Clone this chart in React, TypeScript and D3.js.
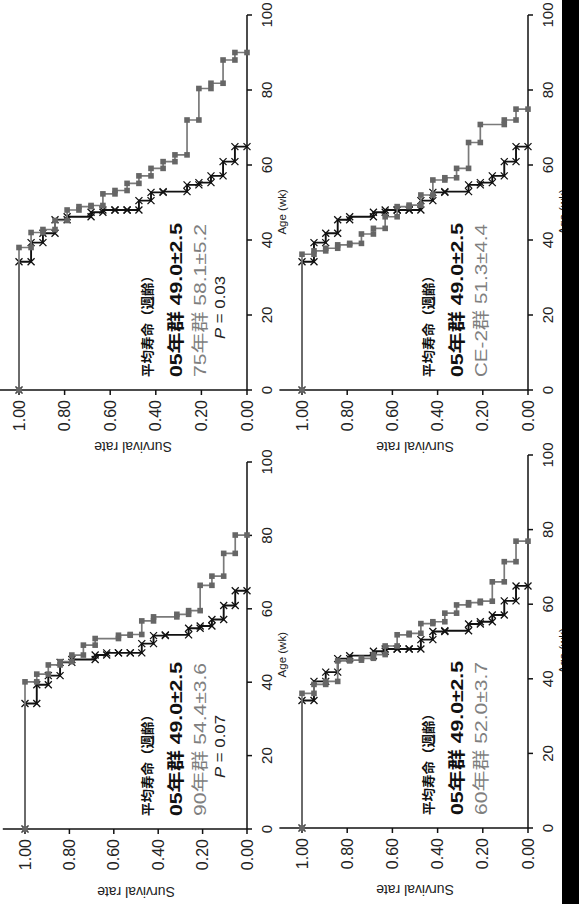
import React from 'react';
import * as d3 from 'd3';

// ---- data ----
const ageTicks = [0, 20, 40, 60, 80, 100];
const survTicks = [0, 0.2, 0.4, 0.6, 0.8, 1.0];

// 05年群 (control, black X markers) — same in every panel
const ctrlAges = [34.2, 39.3, 41.8, 45.4, 46.2, 47.4, 48.0, 48.0, 48.0, 50.5, 52.7, 52.9, 54.7, 55.3, 57.1, 60.9, 64.9];
const ctrlSurv = [0.947, 0.895, 0.842, 0.789, 0.684, 0.632, 0.579, 0.526, 0.474, 0.421, 0.368, 0.263, 0.211, 0.158, 0.105, 0.053, 0];

// 75年群
const g75Ages = [38.0, 42.0, 42.8, 45.2, 48.0, 48.9, 49.2, 52.3, 53.2, 55.1, 57.1, 59.1, 60.9, 62.7, 72.0, 80.4, 81.8, 88.0, 90.0];
const g75Surv = [0.947, 0.895, 0.842, 0.789, 0.737, 0.684, 0.632, 0.579, 0.526, 0.474, 0.421, 0.368, 0.316, 0.263, 0.211, 0.158, 0.105, 0.053, 0];

// CE-2群
const ce2Ages = [36.2, 37.1, 37.8, 38.7, 39.1, 41.6, 43.1, 46.2, 48.9, 49.3, 52.0, 56.0, 56.6, 59.1, 66.0, 70.8, 72.0, 74.9];
const ce2Surv = [0.947, 0.895, 0.842, 0.789, 0.737, 0.684, 0.632, 0.579, 0.526, 0.474, 0.421, 0.368, 0.316, 0.263, 0.211, 0.105, 0.053, 0];

// 90年群
const g90Ages = [40.1, 42.2, 44.7, 45.6, 47.4, 50.1, 51.9, 52.8, 53.0, 56.7, 57.8, 58.5, 59.5, 66.4, 68.9, 75.1, 80.1];
const g90Surv = [0.947, 0.895, 0.842, 0.789, 0.737, 0.684, 0.579, 0.526, 0.474, 0.421, 0.316, 0.263, 0.211, 0.158, 0.105, 0.053, 0];

// 60年群
const g60Ages = [36.1, 38.5, 39.3, 44.8, 45.0, 45.5, 46.5, 48.8, 51.8, 52.2, 54.8, 55.3, 57.6, 59.8, 60.4, 60.8, 66.0, 71.4, 76.9];
const g60Surv = [0.947, 0.895, 0.842, 0.789, 0.737, 0.684, 0.632, 0.579, 0.526, 0.474, 0.421, 0.368, 0.316, 0.263, 0.211, 0.158, 0.105, 0.053, 0];

const headerText = '平均寿命（週齢）';
const ctrlLabel = '05年群 49.0±2.5';
const groupLabels = ['75年群 58.1±5.2', 'CE-2群 51.3±4.4', '90年群 54.4±3.6', '60年群 52.0±3.7'];
const pValues = ['0.03', null, '0.07', null];
const groupAges = [g75Ages, ce2Ages, g90Ages, g60Ages];
const groupSurv = [g75Surv, ce2Surv, g90Surv, g60Surv];

// ---- layout (page coordinates of each rotated panel) ----
const frames = [
  { s1x: 19, s0x: 247, age0y: 390, age100y: 15, titleOff: 57 },
  { s1x: 302, s0x: 528, age0y: 390, age100y: 15, titleOff: 57 },
  { s1x: 25, s0x: 247, age0y: 829, age100y: 462, titleOff: 63 },
  { s1x: 302, s0x: 528, age0y: 828, age100y: 455, titleOff: 62 },
];

const FONT = '"Liberation Sans", Arial, "Noto Sans CJK JP", sans-serif';
const GREY_LINE = '#7a7a7a';
const GREY_MARK = '#666666';
const GREY_TEXT = '#7f7f7f';

function stepPoints(ages: number[], surv: number[]): [number, number][] {
  const pts: [number, number][] = [[0, 1]];
  let prev = 1;
  ages.forEach((a, i) => {
    pts.push([a, prev]);
    pts.push([a, surv[i]]);
    prev = surv[i];
  });
  return pts;
}

function Panel({ idx }: { idx: number }) {
  const f = frames[idx];
  const W = f.age0y - f.age100y;
  const H = f.s0x - f.s1x;
  const x = d3.scaleLinear().domain([0, 100]).range([0, W]);
  const y = d3.scaleLinear().domain([0, 1]).range([H, 0]);
  const line = d3.line<[number, number]>().x(d => x(d[0])).y(d => y(d[1]));
  const ctrlPts = stepPoints(ctrlAges, ctrlSurv);
  const grpPts = stepPoints(groupAges[idx], groupSurv[idx]);
  const m = 3.5;
  const sq = 5.6;
  return (
    <g transform={`translate(${f.s1x},${f.age0y}) rotate(-90)`} fontFamily={FONT}>
      {/* survival axis (standard y) */}
      <line x1={0} x2={0} y1={y(1.1)} y2={H} stroke="#111" strokeWidth={1.5} />
      {survTicks.map(t => (
        <g key={'s' + t}>
          <line x1={-5} x2={0} y1={y(t)} y2={y(t)} stroke="#111" strokeWidth={1.5} />
          <text x={-10} y={y(t)} textAnchor="end" dominantBaseline="central" fontSize={16} fill="#222">
            {d3.format('.2f')(t)}
          </text>
        </g>
      ))}
      <text
        transform={`translate(${-f.titleOff},${y(0.5)}) rotate(-90)`}
        textAnchor="middle"
        dominantBaseline="central"
        fontSize={14}
        fill="#222"
      >
        Survival rate
      </text>
      {/* age axis (standard x) */}
      <line x1={0} x2={W} y1={H} y2={H} stroke="#111" strokeWidth={1.5} />
      {ageTicks.map(t => (
        <g key={'a' + t}>
          <line x1={x(t)} x2={x(t)} y1={H} y2={H + 5} stroke="#111" strokeWidth={1.5} />
          <text x={x(t)} y={H + 19} textAnchor="middle" dominantBaseline="central" fontSize={15} fill="#222">
            {t}
          </text>
        </g>
      ))}
      <text x={x(47.5)} y={H + 35} textAnchor="middle" dominantBaseline="central" fontSize={11.5} fill="#222">
        Age (wk)
      </text>
      {/* control series */}
      <path d={line(ctrlPts) || ''} fill="none" stroke="#111" strokeWidth={1.9} />
      {ctrlPts.map((p, i) => (
        <path
          key={'c' + i}
          d={`M${x(p[0]) - m},${y(p[1]) - m}L${x(p[0]) + m},${y(p[1]) + m}M${x(p[0]) - m},${y(p[1]) + m}L${x(p[0]) + m},${y(p[1]) - m}`}
          stroke="#111"
          strokeWidth={1.3}
        />
      ))}
      {/* comparison group */}
      <path d={line(grpPts) || ''} fill="none" stroke={GREY_LINE} strokeWidth={1.7} />
      {grpPts.map((p, i) => (
        <rect key={'g' + i} x={x(p[0]) - sq / 2} y={y(p[1]) - sq / 2} width={sq} height={sq} fill={GREY_MARK} />
      ))}
      {/* annotation */}
      <text
        x={13}
        y={H - 100}
        dominantBaseline="central"
        fontSize={13}
        fontWeight="bold"
        fill="#111"
        textLength={108}
        lengthAdjust="spacingAndGlyphs"
      >
        {headerText}
      </text>
      <text
        x={13}
        y={H - 71}
        dominantBaseline="central"
        fontSize={17}
        fontWeight="bold"
        fill="#111"
        textLength={154}
        lengthAdjust="spacingAndGlyphs"
      >
        {ctrlLabel}
      </text>
      <text
        x={13}
        y={H - 47}
        dominantBaseline="central"
        fontSize={17}
        fill={GREY_TEXT}
        textLength={153}
        lengthAdjust="spacingAndGlyphs"
      >
        {groupLabels[idx]}
      </text>
      {pValues[idx] && (
        <text
          x={51}
          y={H - 28}
          dominantBaseline="central"
          fontSize={15}
          fill="#222"
          textLength={63}
          lengthAdjust="spacingAndGlyphs"
        >
          <tspan fontStyle="italic">P</tspan>
          {' = ' + pValues[idx]}
        </text>
      )}
    </g>
  );
}

export default function App() {
  return (
    <svg
      width={579}
      height={904}
      style={{ position: 'absolute', left: 0, top: 0, background: '#fff', display: 'block' }}
    >
      <rect x={0} y={0} width={579} height={904} fill="#fff" />
      {frames.map((_, i) => (
        <Panel key={i} idx={i} />
      ))}
      <rect x={562} y={0} width={17} height={904} fill="#000" />
    </svg>
  );
}
